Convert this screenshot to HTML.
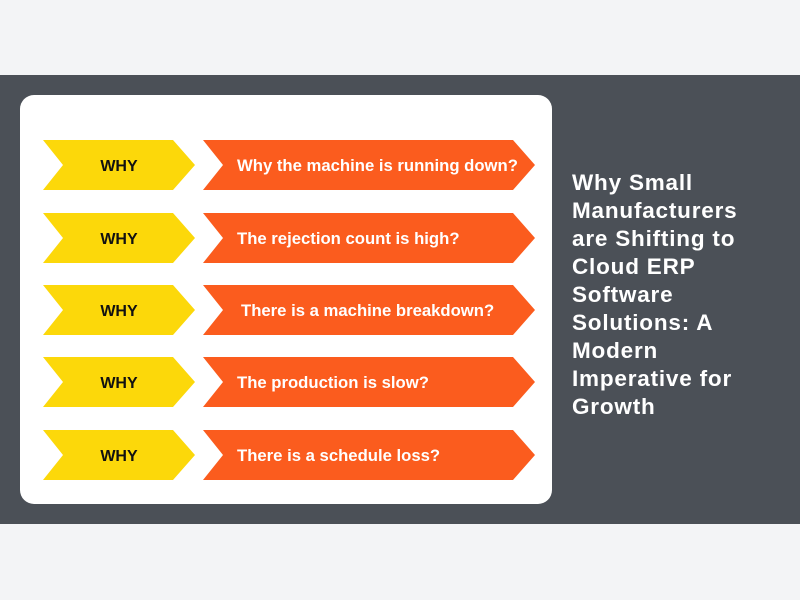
<!DOCTYPE html>
<html><head><style>
body{margin:0;width:800px;height:600px;background:#f3f4f6;font-family:"Liberation Sans",sans-serif;position:relative;overflow:hidden}
.band{position:absolute;left:0;top:75px;width:800px;height:449px;background:#4b5057}
.card{position:absolute;left:20px;top:95px;width:532px;height:409px;background:#fff;border-radius:14px}
.title{position:absolute;left:572px;top:169px;width:220px;color:#fff;font-weight:bold;font-size:22.5px;letter-spacing:0.8px;line-height:28px;white-space:nowrap}
svg{position:absolute;left:0;top:0}
</style></head><body>
<div class="band"></div>
<div class="card"></div>
<svg width="800" height="600" font-family="Liberation Sans, sans-serif" font-weight="bold">
<g>
<polygon points="43,140 173,140 195,165 173,190 43,190 63,165" fill="#fcd80a"/>
<polygon points="203,140 513,140 535,165 513,190 203,190 223,165" fill="#fb5c1e"/>
<text x="119" y="171" text-anchor="middle" font-size="16" fill="#111">WHY</text>
<text x="237" y="171" font-size="16.7" fill="#fff">Why the machine is running down?</text>
</g>
<g transform="translate(0,73)">
<polygon points="43,140 173,140 195,165 173,190 43,190 63,165" fill="#fcd80a"/>
<polygon points="203,140 513,140 535,165 513,190 203,190 223,165" fill="#fb5c1e"/>
<text x="119" y="171" text-anchor="middle" font-size="16" fill="#111">WHY</text>
<text x="237" y="171" font-size="16.7" fill="#fff">The rejection count is high?</text>
</g>
<g transform="translate(0,145)">
<polygon points="43,140 173,140 195,165 173,190 43,190 63,165" fill="#fcd80a"/>
<polygon points="203,140 513,140 535,165 513,190 203,190 223,165" fill="#fb5c1e"/>
<text x="119" y="171" text-anchor="middle" font-size="16" fill="#111">WHY</text>
<text x="241" y="171" font-size="16.7" fill="#fff">There is a machine breakdown?</text>
</g>
<g transform="translate(0,217)">
<polygon points="43,140 173,140 195,165 173,190 43,190 63,165" fill="#fcd80a"/>
<polygon points="203,140 513,140 535,165 513,190 203,190 223,165" fill="#fb5c1e"/>
<text x="119" y="171" text-anchor="middle" font-size="16" fill="#111">WHY</text>
<text x="237" y="171" font-size="16.7" fill="#fff">The production is slow?</text>
</g>
<g transform="translate(0,290)">
<polygon points="43,140 173,140 195,165 173,190 43,190 63,165" fill="#fcd80a"/>
<polygon points="203,140 513,140 535,165 513,190 203,190 223,165" fill="#fb5c1e"/>
<text x="119" y="171" text-anchor="middle" font-size="16" fill="#111">WHY</text>
<text x="237" y="171" font-size="16.7" fill="#fff">There is a schedule loss?</text>
</g>
</svg>
<div class="title">Why Small<br>Manufacturers<br>are Shifting to<br>Cloud ERP<br>Software<br>Solutions: A<br>Modern<br>Imperative for<br>Growth</div>
</body></html>
